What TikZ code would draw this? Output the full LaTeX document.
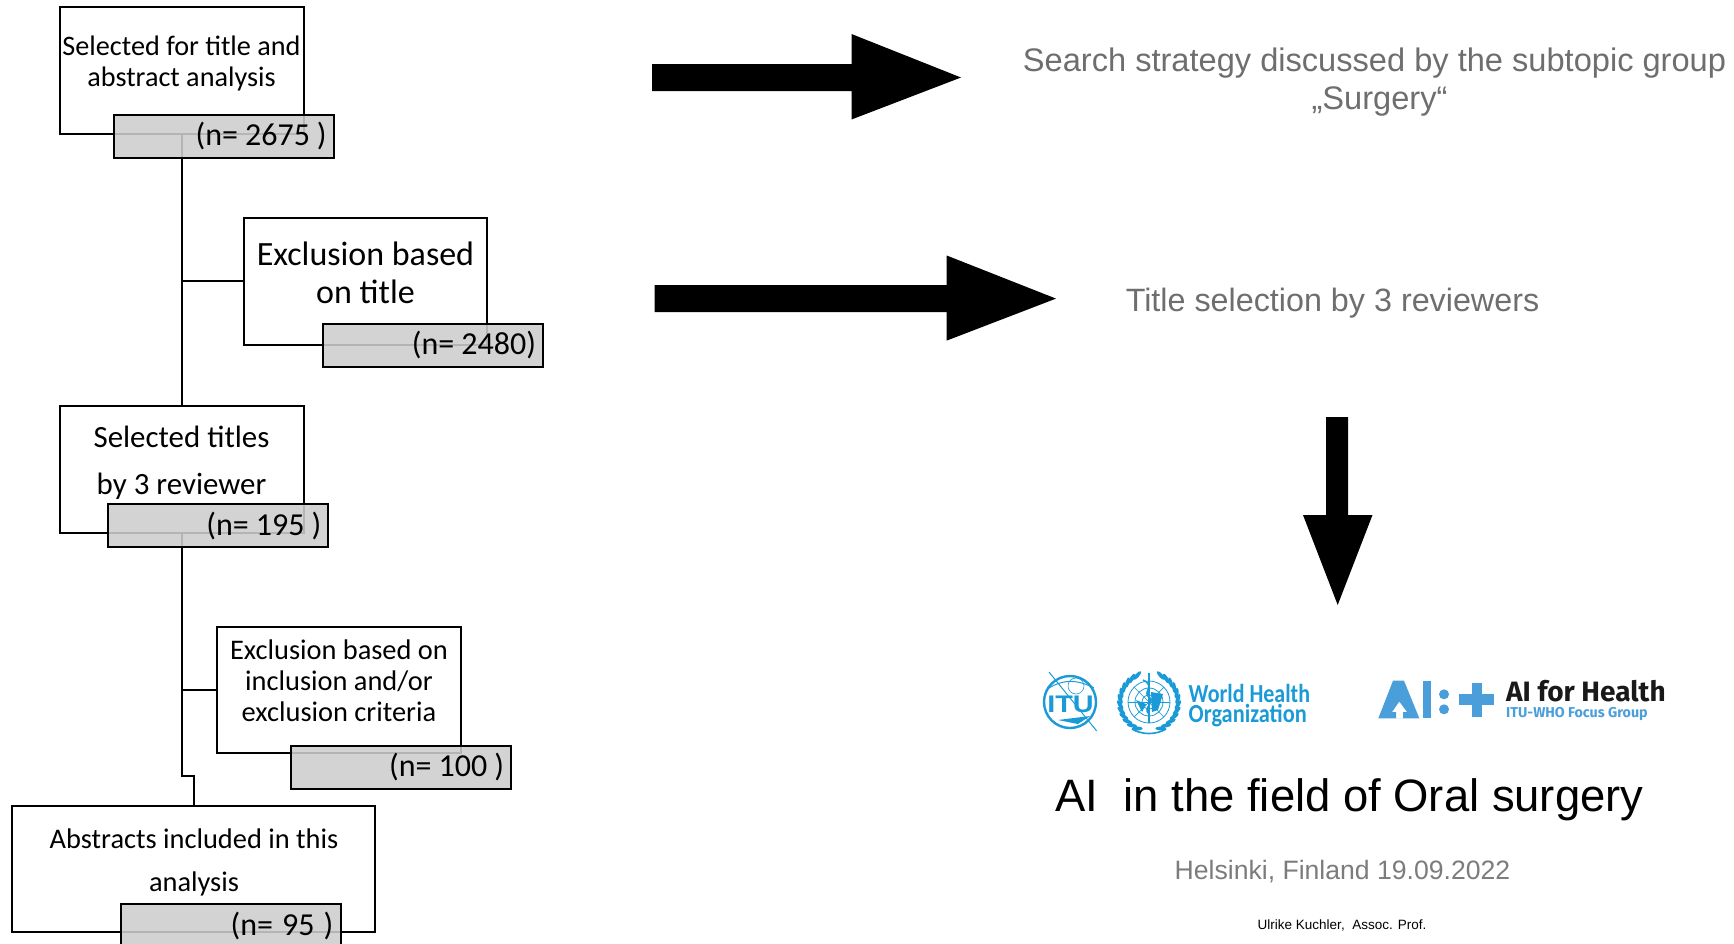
\documentclass[tikz,border=0pt]{standalone}
\usepackage{fontspec}
\setmainfont{Carlito}
\newfontfamily\helv{Liberation Sans}
\newfontfamily\fira{Fira Sans}
\usetikzlibrary{calc}
\definecolor{whoblue}{HTML}{1A9AD6}
\definecolor{aiblue}{HTML}{4A9EDA}
\definecolor{greytxt}{HTML}{6E6E6E}
\definecolor{lightgrey}{HTML}{7C7C7C}
\definecolor{countgrey}{HTML}{CDCDCD}
\newcommand{\fsz}[2]{\fontsize{#1pt}{#2pt}\selectfont}
\newcommand{\gp}{\hspace{7pt}}
\newcommand{\cnt}[1]{\raisebox{-1pt}{#1}}
\tikzset{
  flowbox/.style={draw=black,line width=2pt,fill=white,minimum width=#1,inner sep=0pt},
  countbox/.style={draw=black,line width=2pt,fill=countgrey,fill opacity=.88,text opacity=1,
    text width=206pt,inner xsep=7pt,inner ysep=0pt,align=right,minimum height=43pt,
    font=\fsz{32}{34}},
  conn/.style={line width=2pt,line join=miter},
  bigarrow/.style={fill=black,draw=none},
  flowtxt/.style={inner sep=0pt,align=center},
  slidetxt/.style={inner sep=0pt,align=center,font=\helv},
}
\begin{document}
\begin{tikzpicture}[x=1pt,y=-1pt]
\useasboundingbox (0,0) rectangle (1734,943);
% boxes
\node[flowbox=244.2pt,minimum height=127.3pt] (A) at (181.7,70.35) {};
\node[flowbox=243.8pt,minimum height=126.7pt] (B) at (365.5,281.35) {};
\node[flowbox=244.2pt,minimum height=126.7pt] (C) at (181.7,469.65) {};
\node[flowbox=243.7pt,minimum height=126.3pt] (D) at (339,689.85) {};
\node[flowbox=363pt,minimum height=126pt] (E) at (193.8,868.7) {};
% connectors
\coordinate (jog) at (181.7,776);
\draw[conn] (A.south) -- (C.north);
\draw[conn] (A.south |- B.west) -- (B.west);
\draw[conn] (C.south) -- (jog) -- (jog -| E.north) -- (E.north);
\draw[conn] (C.south |- D.west) -- (D.west);
% count boxes
\node[countbox] (nA) at (223.7,136.2) {\cnt{(n=\gp 2675\gp)}};
\node[countbox] (nB) at (433,345.5) {\cnt{(n=\gp 2480)}};
\node[countbox] (nC) at (218.3,525.7) {\cnt{(n=\gp 195\gp)}};
\node[countbox] (nD) at (401,767) {\cnt{(n=\gp 100\gp)}};
\node[countbox,minimum height=60pt] (nE) at (231,934.3) {};
\node[inner sep=0pt,anchor=east,font=\fsz{32}{34}] (nEt) at (333.5,926) {(n=\hspace{9pt}95\hspace{9pt})};
% flow text
\node[flowtxt,font=\fsz{28.2}{31}] (tA) at (181.5,63) {Selected for title and\\abstract analysis};
\node[flowtxt,font=\fsz{34}{37.5}] (tB) at (365.5,273) {Exclusion based\\on title};
\node[flowtxt,font=\fsz{30.9}{47}] (tC) at (181.5,463) {Selected titles\\by 3 reviewer};
\node[flowtxt,font=\fsz{28.4}{31}] (tD) at (339,681) {Exclusion based on\\inclusion and/or\\exclusion criteria};
\node[flowtxt,font=\fsz{28.4}{43}] (tE) at (194,862) {Abstracts included in this\\analysis};
% arrows
\fill[bigarrow] (652,64) -- (851.5,64) -- (851.5,34) -- (961,77.5) -- (851.5,119.5) -- (851.5,91) -- (652,91) -- cycle;
\fill[bigarrow] (654.5,285) -- (946.7,285) -- (946.7,255.5) -- (1056,298.6) -- (946.7,340.6) -- (946.7,312) -- (654.5,312) -- cycle;
\fill[bigarrow] (1326,417) -- (1348,417) -- (1348,515) -- (1372.5,515) -- (1337.7,605) -- (1303,515) -- (1326,515) -- cycle;
% right-hand text
\node[slidetxt,text=greytxt,font=\helv\fsz{32.6}{38}] (s1) at (1374.5,82) {Search strategy discussed by the subtopic group\\\hspace*{10pt}„Surgery“};
\node[slidetxt,text=greytxt,font=\helv\fsz{32.3}{38}] (s2) at (1332.5,303) {Title selection by 3 reviewers};
\node[slidetxt,text=black,font=\helv\fsz{45.4}{50}] (s3) at (1349.5,800) {AI\ \ in the field of Oral surgery};
\node[slidetxt,text=lightgrey,font=\helv\fsz{26.6}{32}] (s4) at (1342.5,872) {Helsinki, Finland 19.09.2022};
\node[slidetxt,text=black,font=\helv\fsz{13.5}{16}] (s5) at (1342,925) {Ulrike Kuchler,\ \ Assoc. Prof.};
% ITU logo
\begin{scope}[whoblue]
\draw[line width=2.4pt] (1070,702) circle (26);
\draw[line width=1pt] (1049,672) -- (1096.7,731);
\draw[line width=.6pt] (1076,686) circle (8);
\draw[line width=1pt] (1046,690) .. controls (1060,680) and (1075,678) .. (1094,688);
\fill (1058,720) -- (1090,716) -- (1078,724) -- cycle;
\node[inner sep=0pt,text=whoblue,font=\helv\bfseries\fsz{24}{24}] (itu) at (1070.5,704) {\scalebox{1.2}[1]{ITU}};
% WHO emblem
\draw[line width=.8pt] (1149,702) circle (21);
\draw[line width=.8pt] (1149,702) circle (14);
\draw[line width=.8pt] (1149,702) circle (7);
\draw[line width=.7pt] (1128,702) -- (1170,702);
\draw[line width=.7pt] (1134.2,687.2) -- (1163.8,716.8);
\draw[line width=.7pt] (1134.2,716.8) -- (1163.8,687.2);
\draw[line width=1.6pt] (1149,673) -- (1149,723);
\draw[line width=1.6pt] (1143,680) .. controls (1156,686) and (1142,692) .. (1149,697) .. controls (1156,702) and (1142,708) .. (1149,714);
\fill (1136,700) -- (1146,704) -- (1142,712) -- cycle;
\fill (1151,692) -- (1163,694) -- (1158,710) -- (1152,712) -- cycle;
\foreach \a in {-66,-54,...,66} {
  \fill[rotate around={\a:(1149,702)},rotate around={-25:(1178,702)}] (1178,702) ellipse (2 and 5.5);
  \fill[rotate around={180-\a:(1149,702)},rotate around={25:(1178,702)}] (1178,702) ellipse (2 and 5.5);
}
\draw[line width=1.6pt] (1132,729) .. controls (1142,735) and (1156,735) .. (1166,729);
\node[inner sep=0pt,text=whoblue,anchor=west,font=\bfseries\fsz{26}{26}] (w1) at (1188.5,693.5) {\scalebox{.845}[1]{World Health}};
\node[inner sep=0pt,text=whoblue,anchor=west,font=\bfseries\fsz{26}{26}] (w2) at (1188.5,716) {\scalebox{.86}[1]{Organization}};
\end{scope}
% AI logo
\fill[aiblue,even odd rule] (1378.3,718.3) -- (1393,680.7) -- (1404,680.7) -- (1419.3,718.3) -- cycle
  (1399.3,701.5) -- (1392,712) -- (1396,712) -- (1396,718.3) -- (1403,718.3) -- (1403,712) -- (1407,712) -- cycle;
\fill[aiblue] (1422.7,680.7) rectangle (1430.7,718.3);
\fill[aiblue] (1444,694.3) circle (5) (1444,709.3) circle (5);
\fill[aiblue] (1459,694.3) rectangle (1494.3,705);
\fill[aiblue] (1471.7,682.7) rectangle (1481.7,716.7);
\node[inner sep=0pt,anchor=west,text=black!90,font=\fira\bfseries\fsz{28}{28}] (h1) at (1506,691.5) {AI for Health};
\node[inner sep=0pt,anchor=west,text=aiblue,font=\fira\bfseries\fsz{14.3}{15}] (h2) at (1506,714) {ITU-WHO Focus Group};
\end{tikzpicture}
\end{document}
